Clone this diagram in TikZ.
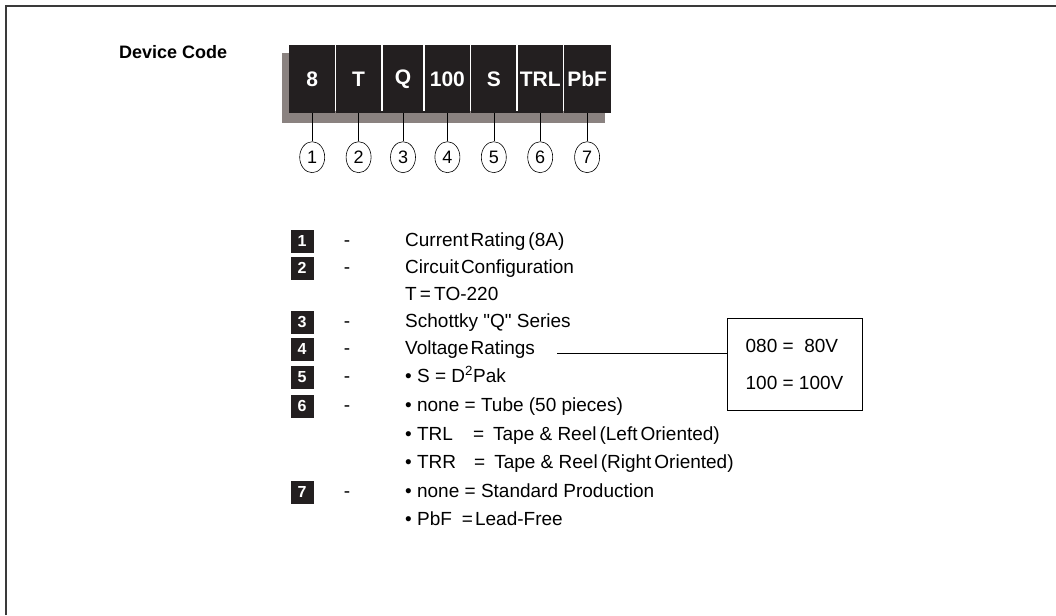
\documentclass[tikz,border=0pt]{standalone}
\usepackage{fontspec}
\setmainfont{Liberation Sans}
\usepackage{xcolor}
\usepackage{tikz}
\usetikzlibrary{positioning,backgrounds,shapes.geometric}

\definecolor{barblack}{HTML}{231F20}
\definecolor{shadowgray}{HTML}{8A8280}
\definecolor{framegray}{HTML}{3A3A3A}

\begin{document}
\begin{tikzpicture}[
  x=1pt, y=-1pt,
  node distance=0pt,
  cell/.style={fill=barblack, text=white, inner sep=0pt, minimum height=68pt,
               font=\fontsize{21}{24}\selectfont\bfseries},
  num/.style={draw, ellipse, minimum width=25pt, minimum height=31pt,
              inner sep=0pt, semithick, font=\fontsize{18}{20}\selectfont},
  idx/.style={fill=barblack, text=white, minimum width=23pt, minimum height=23pt,
              inner sep=0pt, font=\fontsize{16}{18}\selectfont\bfseries},
  txt/.style={anchor=west, inner sep=0pt, text height=14pt, text depth=4pt,
              font=\fontsize{19}{22}\selectfont},
  hyph/.style={inner sep=0pt, text height=14pt, text depth=4pt,
               font=\fontsize{19}{22}\selectfont},
  vbox/.style={draw, semithick, minimum width=135pt, minimum height=92pt,
               align=left, font=\fontsize{19}{37}\selectfont},
  lead/.style={semithick},
  divider/.style={white, line width=1.5pt}
]
\useasboundingbox (0,0) rectangle (1056,615);
\draw[framegray, line width=2pt] (6,615) -- (6,6) -- (1056,6);

\node[anchor=west, inner sep=0pt, font=\fontsize{18}{20}\selectfont\bfseries]
    (title) at (119,52) {Device Code};

% code bar
\node[cell, minimum width=46pt, anchor=north west] (c1) at (289,45) {8};
\node[cell, minimum width=46pt, right=of c1] (c2) {T};
\node[cell, minimum width=42pt, right=of c2] (c3) {Q};
\node[cell, minimum width=46pt, right=of c3] (c4) {100};
\node[cell, minimum width=46pt, right=of c4] (c5) {S};
\node[cell, minimum width=46pt, right=of c5] (c6) {TRL};
\node[cell, minimum width=47pt, right=of c6] (c7) {PbF};

\begin{scope}[on background layer]
\fill[shadowgray] ([shift={(-7,8)}]c1.north west) rectangle ([shift={(-6,10)}]c7.south east);
\end{scope}

\foreach \i in {1,...,6}
  \draw[divider] (c\i.north east) -- ([yshift=2pt]c\i.south east);

\foreach \i in {1,...,7} {
  \node[num, below=28pt of c\i] (n\i) {\i};
  \draw[lead] (c\i) -- (n\i);
}

% legend
\node[idx] (k1) at (302,241) {1};
\node[idx] (k2) at (302,268) {2};
\node[idx] (k3) at (302,322) {3};
\node[idx] (k4) at (302,349) {4};
\node[idx] (k5) at (302,377) {5};
\node[idx] (k6) at (302,406) {6};
\node[idx] (k7) at (302,492) {7};

\node[hyph] (h1) at (347,241) {-};
\node[hyph] (h2) at (347,268) {-};
\node[hyph] (h3) at (347,322) {-};
\node[hyph] (h4) at (347,349) {-};
\node[hyph] (h5) at (347,377) {-};
\node[hyph] (h6) at (347,406) {-};
\node[hyph] (h7) at (347,492) {-};

\node[txt] (t1) at (405,241) {Current\hspace{2pt}Rating\hspace{3pt}(8A)};
\node[txt] (t2) at (405,268) {Circuit\hspace{2pt}Configuration};
\node[txt] (t2b) at (405,295) {T\,=\,TO-220};
\node[txt] (t3) at (405,322) {Schottky \textquotedbl Q\textquotedbl\ Series};
\node[txt] (t4) at (405,349) {Voltage\hspace{2pt}Ratings};
\node[txt] (t5) at (405,377) {\textbullet\ S\ =\ D\textsuperscript{2}Pak};
\node[txt] (t6) at (405,406) {\textbullet\ none = Tube (50 pieces)};
\node[txt] (t6b) at (405,435) {\textbullet\ TRL\hspace{20pt}=\hspace{9pt}Tape \& Reel\hspace{3pt}(Left\hspace{3pt}Oriented)};
\node[txt] (t6c) at (405,463) {\textbullet\ TRR\hspace{18pt}=\hspace{9pt}Tape \& Reel\hspace{3pt}(Right\hspace{3pt}Oriented)};
\node[txt] (t7) at (405,492) {\textbullet\ none = Standard Production};
\node[txt] (t7b) at (405,520) {\textbullet\ PbF\hspace{10pt}=\hspace{2pt}Lead-Free};

% voltage range box
\node[vbox] (vrange) at (794.5,364) {080 =\ \ 80V\\100 = 100V};
\coordinate (vstart) at ([xshift=22pt,yshift=-4pt]t4.east);
\draw[lead] (vstart) -- (vstart -| vrange.west);
\end{tikzpicture}
\end{document}
